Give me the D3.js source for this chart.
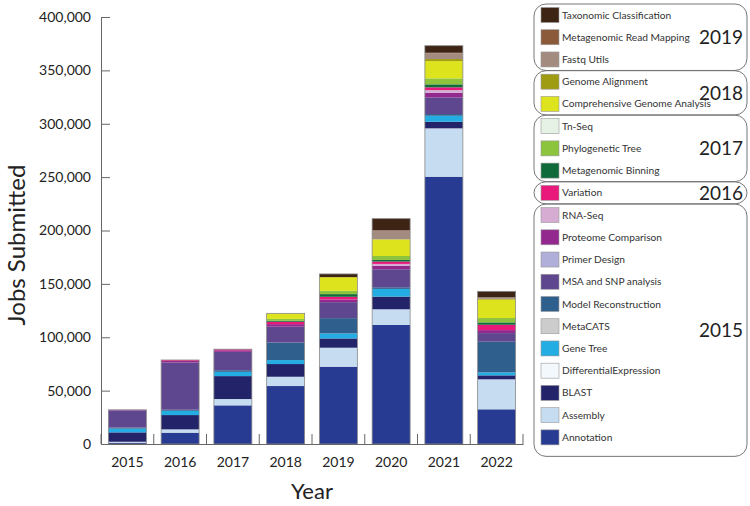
<!DOCTYPE html>
<html>
<head>
<meta charset="utf-8">
<script src="https://cdn.jsdelivr.net/npm/d3@7"></script>
<style>
  html, body { margin: 0; padding: 0; background: #fff; }
  svg { display: block; font-family: Lato, "Open Sans", sans-serif; }
</style>
</head>
<body>
<svg id="chart" width="750" height="506"></svg>
<script>
// ---------- data ----------
const years = ["2015", "2016", "2017", "2018", "2019", "2020", "2021", "2022"];

// series, bottom of stack first
const seriesNames = [
  "Annotation", "Assembly", "BLAST", "DifferentialExpression", "Gene Tree",
  "MetaCATS", "Model Reconstruction", "MSA and SNP analysis", "Primer Design",
  "Proteome Comparison", "RNA-Seq", "Variation", "Metagenomic Binning",
  "Phylogenetic Tree", "Tn-Seq", "Comprehensive Genome Analysis",
  "Genome Alignment", "Fastq Utils", "Metagenomic Read Mapping",
  "Taxonomic Classification"
];

const annotation          = [1200, 10600, 36200, 54300, 72400, 111500, 250400, 32500];
const assembly            = [900, 3100, 5900, 8700, 17800, 14700, 45300, 28100];
const blast               = [8800, 13400, 21500, 11900, 8700, 11900, 6200, 3700];
const differentialExpr    = [0, 0, 0, 0, 0, 0, 0, 0];
const geneTree            = [3500, 4000, 4000, 3700, 4700, 7200, 5600, 2800];
const metaCATS            = [0, 0, 0, 0, 0, 0, 0, 0];
const modelReconstruction = [1000, 1000, 1500, 16500, 14300, 1500, 1600, 28700];
const msaSnp              = [16000, 44300, 17200, 14800, 15000, 16900, 15600, 8100];
const primerDesign        = [0, 0, 0, 0, 0, 0, 0, 0];
const proteomeComparison  = [600, 1500, 1500, 2400, 2500, 3100, 4400, 2800];
const rnaSeq              = [0, 0, 0, 0, 0, 1900, 2500, 0];
const variation           = [0, 800, 1000, 2200, 2500, 2200, 2500, 5000];
const metagenomicBinning  = [0, 0, 0, 900, 2500, 1500, 2800, 2200];
const phylogeneticTree    = [0, 0, 0, 1800, 3100, 3700, 5600, 4100];
const tnSeq               = [0, 0, 0, 0, 0, 0, 0, 0];
const comprehensiveGenome = [0, 0, 0, 5200, 12800, 15600, 16200, 17200];
const genomeAlignment     = [0, 0, 0, 0, 0, 0, 1900, 800];
const fastqUtils          = [0, 0, 0, 0, 0, 8100, 5300, 1400];
const metagenomicReadMap  = [0, 0, 0, 0, 0, 400, 600, 0];
const taxonomicClass      = [0, 0, 0, 0, 3000, 10900, 6600, 5600];

const seriesValues = [
  annotation, assembly, blast, differentialExpr, geneTree, metaCATS,
  modelReconstruction, msaSnp, primerDesign, proteomeComparison, rnaSeq,
  variation, metagenomicBinning, phylogeneticTree, tnSeq, comprehensiveGenome,
  genomeAlignment, fastqUtils, metagenomicReadMap, taxonomicClass
];

const seriesColors = [
  "#283b93", "#c5dcf1", "#23236a", "#f3f8fd", "#23ade3",
  "#cccccc", "#2f5f8c", "#5f4790", "#b0afd9", "#93298e",
  "#d6acd2", "#e8197b", "#0f6b3a", "#8cc43e", "#e5f2e5",
  "#dde31d", "#a09c12", "#a38c7f", "#8a5a3b", "#3e2415"
];

const yTicks = [0, 50000, 100000, 150000, 200000, 250000, 300000, 350000, 400000];

// legend groups (top to bottom) and how many entries each holds
const legendGroups = ["2019", "2018", "2017", "2016", "2015"];
const legendGroupSizes = [3, 2, 3, 1, 11];

// ---------- build ----------
const svg = d3.select("#chart");

const table = years.map((yr, i) => {
  const row = { year: yr };
  seriesNames.forEach((s, j) => { row[s] = seriesValues[j][i]; });
  return row;
});

const x = d3.scaleBand().domain(years).range([101, 523])
  .paddingInner(0.28).paddingOuter(0.14);
const y = d3.scaleLinear().domain([0, 400000]).range([444, 17]);
const color = d3.scaleOrdinal().domain(seriesNames).range(seriesColors);

const stacked = d3.stack().keys(seriesNames)(table);

// bars
const layers = svg.append("g").selectAll("g").data(stacked).join("g")
  .attr("fill", d => color(d.key));
layers.selectAll("rect").data(d => d).join("rect")
  .attr("x", d => x(d.data.year))
  .attr("width", x.bandwidth())
  .attr("y", d => y(d[1]))
  .attr("height", d => Math.max(0, y(d[0]) - y(d[1])));

// thin outline around each bar
const totals = years.map((yr, i) => d3.sum(seriesValues, s => s[i]));
svg.append("g").selectAll("rect").data(years).join("rect")
  .attr("x", d => x(d))
  .attr("width", x.bandwidth())
  .attr("y", (d, i) => y(totals[i]))
  .attr("height", (d, i) => y(0) - y(totals[i]))
  .attr("fill", "none")
  .attr("stroke", "#8a8a8a")
  .attr("stroke-width", 0.8);

// y axis
const yAxis = svg.append("g").attr("transform", `translate(${x.range()[0]},0)`)
  .call(d3.axisLeft(y).tickValues(yTicks).tickFormat(d3.format(",")).tickSizeInner(-9).tickSizeOuter(0).tickPadding(10));
yAxis.select(".domain").attr("stroke", "#666");
yAxis.selectAll(".tick line").attr("stroke", "#666");
yAxis.selectAll(".tick text").attr("fill", "#222").style("font-size", "14px").style("font-family", "Lato, sans-serif");

// x axis
const xAxis = svg.append("g").attr("transform", `translate(0,${y(0)})`)
  .call(d3.axisBottom(x).tickSize(0).tickPadding(13));
xAxis.select(".domain").attr("stroke", "#666");
xAxis.selectAll(".tick text").attr("fill", "#222").style("font-size", "14px").style("font-family", "Lato, sans-serif");
// separator ticks at band boundaries
const boundaries = d3.range(years.length + 1).map(i => x.range()[0] + i * x.step());
xAxis.append("g").selectAll("line").data(boundaries).join("line")
  .attr("x1", d => d).attr("x2", d => d)
  .attr("y1", 0).attr("y2", -10)
  .attr("stroke", "#666");

// axis titles
svg.append("text")
  .attr("transform", "translate(25,245) rotate(-90)")
  .attr("text-anchor", "middle")
  .style("font-size", "24px")
  .attr("fill", "#222")
  .text("Jobs Submitted");
svg.append("text")
  .attr("x", (x.range()[0] + x.range()[1]) / 2)
  .attr("y", 499)
  .attr("text-anchor", "middle")
  .style("font-size", "22px")
  .attr("fill", "#222")
  .text("Year");

// ---------- legend ----------
const legendOrder = seriesNames.slice().reverse();
const rowY = i => 15 + i * 22.23;
const legend = svg.append("g");

let start = 0;
legendGroups.forEach((g, gi) => {
  const n = legendGroupSizes[gi];
  const top = rowY(start) - 11;
  const bottom = rowY(start + n - 1) + (gi === legendGroups.length - 1 ? 19 : 11);
  legend.append("rect")
    .attr("x", 534).attr("y", top)
    .attr("width", 213).attr("height", bottom - top)
    .attr("rx", 12).attr("ry", 12)
    .attr("fill", "none").attr("stroke", "#777").attr("stroke-width", 1);
  legend.append("text")
    .attr("x", 743).attr("y", (top + bottom) / 2)
    .attr("dy", "0.36em")
    .attr("text-anchor", "end")
    .style("font-size", "19px")
    .attr("fill", "#222")
    .text(g);
  start += n;
});

const items = legend.append("g").selectAll("g").data(legendOrder).join("g")
  .attr("transform", (d, i) => `translate(0,${rowY(i)})`);
items.append("rect")
  .attr("x", 541).attr("y", -7.5).attr("width", 18).attr("height", 15)
  .attr("fill", d => color(d))
  .attr("stroke", "#999").attr("stroke-width", 0.6);
items.append("text")
  .attr("x", 562).attr("dy", "0.35em")
  .style("font-size", "10.2px")
  .attr("fill", "#333")
  .text(d => d);
</script>
</body>
</html>
